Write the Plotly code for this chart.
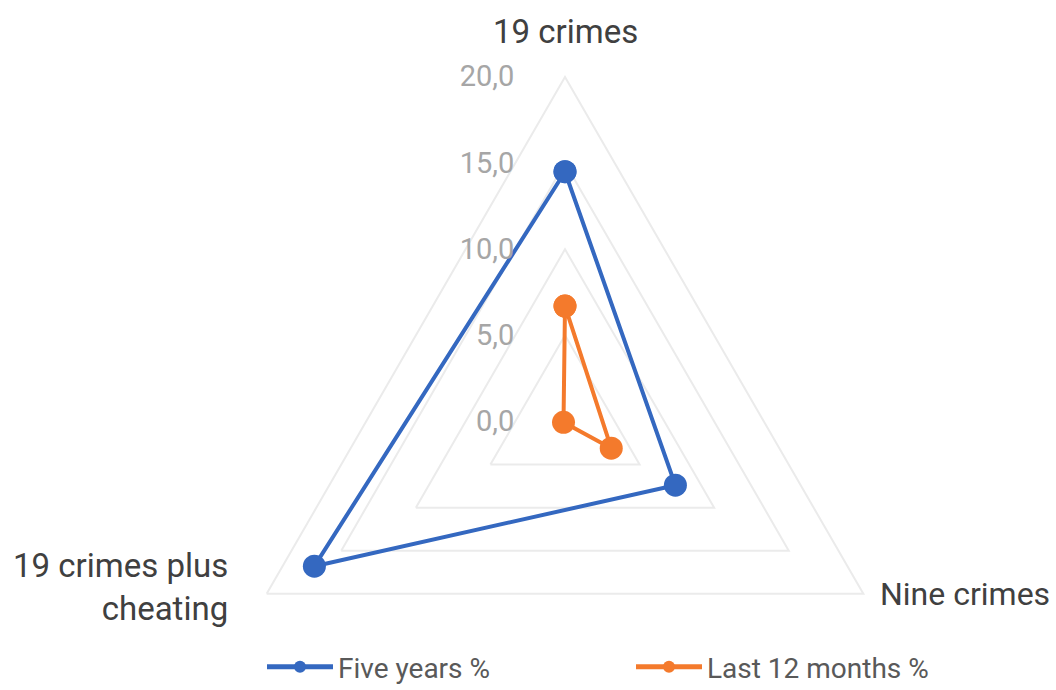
import math
import plotly.graph_objects as go

# Categories around the radar (clockwise from the top)
categories = ["19 crimes", "Nine crimes", "19 crimes plus cheating"]
category_text = ["19 crimes", "Nine crimes", "19 crimes plus<br>cheating"]

# Prevalence values (%)
five_years = [14.5, 7.4, 16.8]
last_12_months = [6.7, 3.1, 0.1]

# Radial axis ticks
tick_values = [0, 5, 10, 15, 20]
tick_labels = ["0,0", "5,0", "10,0", "15,0", "20,0"]

BLUE = "#3468C0"
ORANGE = "#F47A2C"
GRID = "#EBEBEB"

W, H = 1056, 766
R = 344.5
CX, CY = 565, 421.5  # centre of the radar, px from left / top

fig = go.Figure()


def closed(vals):
    return list(vals) + [vals[0]]


for name, vals, color in [
    ("Five years %", five_years, BLUE),
    ("Last 12 months %", last_12_months, ORANGE),
]:
    fig.add_trace(
        go.Scatterpolar(
            r=closed(vals),
            theta=closed(categories),
            name=name,
            mode="lines+markers",
            line=dict(color=color, width=4),
            marker=dict(color=color, size=23),
        )
    )

# Category labels placed just outside each vertex of the outer triangle
label_offsets = [
    (0, -45, "center", 33),
    (15, 0, "left", 32),
    (-37, -7, "right", 33),
]
annotations = []
for i, (txt, (dx, dy, xa, size)) in enumerate(zip(category_text, label_offsets)):
    ang = math.radians(90 - 120 * i)
    vx = CX + R * math.cos(ang)
    vy = CY - R * math.sin(ang)
    annotations.append(
        dict(
            x=(vx + dx) / W,
            y=(H - (vy + dy)) / H,
            xref="paper",
            yref="paper",
            text=txt,
            showarrow=False,
            xanchor=xa,
            yanchor="middle",
            align="right" if xa == "right" else "center",
            font=dict(size=size, color="#404040"),
        )
    )

fig.update_layout(
    width=W,
    height=H,
    margin=dict(l=0, r=0, t=0, b=0, autoexpand=False),
    paper_bgcolor="white",
    font=dict(family="Roboto, Arial, sans-serif"),
    annotations=annotations,
    polar=dict(
        domain=dict(
            x=[(CX - R) / W, (CX + R) / W],
            y=[(H - CY - R) / H, (H - CY + R) / H],
        ),
        gridshape="linear",
        bgcolor="white",
        radialaxis=dict(
            range=[0, 20],
            tickvals=tick_values,
            ticktext=tick_labels,
            angle=90,
            tickangle=90,
            side="counterclockwise",
            showline=False,
            ticks="outside",
            ticklen=40,
            tickcolor="rgba(0,0,0,0)",
            gridcolor=GRID,
            gridwidth=2,
            tickfont=dict(size=29, color="#A6A6A6"),
        ),
        angularaxis=dict(
            rotation=90,
            direction="clockwise",
            showgrid=False,
            showline=True,
            linecolor=GRID,
            linewidth=2,
            ticks="",
            showticklabels=False,
        ),
    ),
    showlegend=True,
    legend=dict(
        orientation="h",
        x=(274 - 12) / W,
        xanchor="left",
        y=(H - 667) / H,
        yanchor="middle",
        font=dict(size=28, color="#595959"),
        itemsizing="constant",
        itemwidth=66,
        entrywidth=288,
    ),
)

fig.write_html("out.html")
